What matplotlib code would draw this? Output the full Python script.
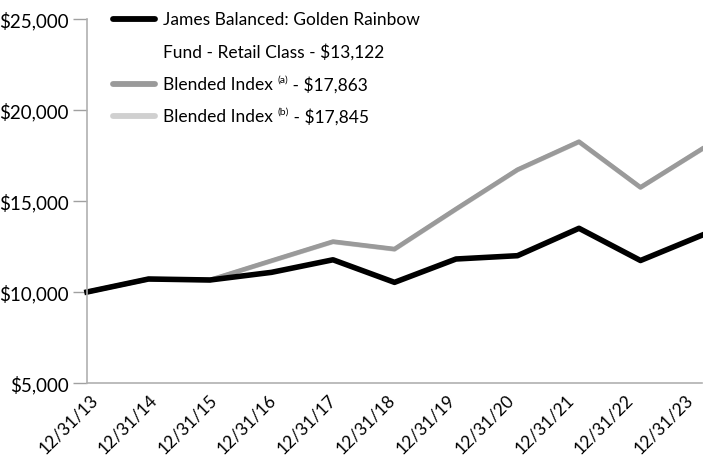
import matplotlib
matplotlib.use("Agg")
import matplotlib.pyplot as plt
import matplotlib.transforms as mtransforms
from matplotlib.lines import Line2D

plt.rcParams['font.family'] = ['Lato', 'DejaVu Sans']

dates = ["12/31/13", "12/31/14", "12/31/15", "12/31/16", "12/31/17", "12/31/18",
         "12/31/19", "12/31/20", "12/31/21", "12/31/22", "12/31/23"]
fund = [10000, 10714, 10660, 11080, 11770, 10530, 11813, 11995, 13500, 11730, 13122]
blend_a = [10000, 10714, 10660, 11720, 12770, 12360, 14560, 16720, 18260, 15750, 17863]
blend_b = [10000, 10700, 10650, 11700, 12750, 12340, 14540, 16700, 18240, 15740, 17845]

series_colors = ['#000000', '#9a9a9a', '#d0d0d0']
legend_rows = [
    # (handle colour or None, main text, superscript, tail text)
    ('#000000', "James Balanced: Golden Rainbow", None, None),
    (None, "Fund - Retail Class - $13,122", None, None),
    ('#9a9a9a', "Blended Index ", "(a)", " - $17,863"),
    ('#d0d0d0', "Blended Index ", "(b)", " - $17,845"),
]

yticks = [5000, 10000, 15000, 20000, 25000]

W, H = 703, 456
fig = plt.figure(figsize=(W/100, H/100), dpi=100)
ax = fig.add_axes([87/W, 1-384/H, (702-87)/W, (384-20)/H])

x = list(range(len(dates)))
ax.plot(x, blend_b, color=series_colors[2], lw=3.3, clip_on=False)
ax.plot(x, blend_a, color=series_colors[1], lw=3.3, clip_on=False)
ax.plot(x, fund, color=series_colors[0], lw=4.0, clip_on=False)

ax.set_xlim(0, len(dates)-1)
ax.set_ylim(5000, 25000)
ax.set_yticks(yticks)
ax.set_yticklabels([f"${v:,.0f}" for v in yticks], fontsize=13.5)
ax.set_xticks(x)
ax.set_xticklabels([])
ax.tick_params(axis='x', length=0)
ax.tick_params(axis='y', length=10, color='#a0a0a0', width=1, pad=3)
for s in ['top', 'right']:
    ax.spines[s].set_visible(False)
for s in ['left', 'bottom']:
    ax.spines[s].set_color('#b0b0b0')
    ax.spines[s].set_linewidth(1.2)

# category labels, rotated, placed under each tick position
base = mtransforms.blended_transform_factory(ax.transData, ax.transAxes)
for i, d in enumerate(dates):
    off = mtransforms.ScaledTranslation((8 - 2.0 * i) / 100, -13 / 100, fig.dpi_scale_trans)
    ax.text(x[i], 0, d, transform=base + off, fontsize=12.5, rotation=45,
            ha='right', va='center', rotation_mode='anchor', clip_on=False)

# manual legend in pixel coordinates
def fx(px):
    return px / W

def fy(py):
    return 1 - py / H

renderer = fig.canvas.get_renderer()
row_y = [20, 52, 85, 117]
fs = 12.5
for (col, main, sup, tail), y in zip(legend_rows, row_y):
    if col is not None:
        fig.add_artist(Line2D([fx(113), fx(155)], [fy(y), fy(y)], color=col, lw=4.2,
                              solid_capstyle='round', transform=fig.transFigure))
    t = fig.text(fx(163), fy(y), main, fontsize=fs, va='center', ha='left')
    if sup is not None:
        bb = t.get_window_extent(renderer)
        xs = bb.x1 / W
        t2 = fig.text(xs, fy(y - 5), sup, fontsize=7.5, va='center', ha='left')
        bb2 = t2.get_window_extent(renderer)
        fig.text(bb2.x1 / W, fy(y), tail, fontsize=fs, va='center', ha='left')

fig.savefig("out.png", dpi=100)
